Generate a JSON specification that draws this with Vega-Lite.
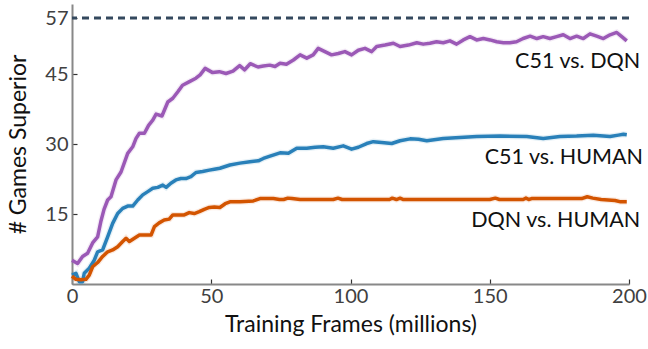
{
  "$schema": "https://vega.github.io/schema/vega-lite/v6.json",
  "width": 557,
  "height": 280,
  "autosize": "none",
  "padding": {"left": 72, "top": 4, "right": 19, "bottom": 65},
  "config": {
    "view": {"stroke": null},
    "font": "Lato",
    "axis": {"grid": false, "labelFont": "Lato", "titleFont": "Lato", "labelFontSize": 20, "labelColor": "#404040", "titleFontSize": 23, "titleFontWeight": "normal", "titleColor": "#111111", "domainColor": "#888888", "domainWidth": 2, "tickColor": "#333333", "tickWidth": 1.2, "labelFlush": false}
  },
  "datasets": {
    "curves": [
      {"frames": 0, "games": 5.1, "series": "C51 vs. DQN"},
      {"frames": 2, "games": 4.4, "series": "C51 vs. DQN"},
      {"frames": 3.8, "games": 5.9, "series": "C51 vs. DQN"},
      {"frames": 5.6, "games": 6.6, "series": "C51 vs. DQN"},
      {"frames": 7.4, "games": 8.8, "series": "C51 vs. DQN"},
      {"frames": 9.2, "games": 10.1, "series": "C51 vs. DQN"},
      {"frames": 10.4, "games": 13.5, "series": "C51 vs. DQN"},
      {"frames": 11.5, "games": 16, "series": "C51 vs. DQN"},
      {"frames": 12.8, "games": 18, "series": "C51 vs. DQN"},
      {"frames": 14, "games": 18.7, "series": "C51 vs. DQN"},
      {"frames": 15.8, "games": 22.3, "series": "C51 vs. DQN"},
      {"frames": 17.6, "games": 24, "series": "C51 vs. DQN"},
      {"frames": 20, "games": 28, "series": "C51 vs. DQN"},
      {"frames": 21.8, "games": 29.4, "series": "C51 vs. DQN"},
      {"frames": 23, "games": 31.2, "series": "C51 vs. DQN"},
      {"frames": 24.2, "games": 32.3, "series": "C51 vs. DQN"},
      {"frames": 26, "games": 32.3, "series": "C51 vs. DQN"},
      {"frames": 27.5, "games": 34, "series": "C51 vs. DQN"},
      {"frames": 29, "games": 35.1, "series": "C51 vs. DQN"},
      {"frames": 30.2, "games": 36.4, "series": "C51 vs. DQN"},
      {"frames": 32.3, "games": 36, "series": "C51 vs. DQN"},
      {"frames": 34.4, "games": 39, "series": "C51 vs. DQN"},
      {"frames": 36.2, "games": 39.8, "series": "C51 vs. DQN"},
      {"frames": 38, "games": 41.2, "series": "C51 vs. DQN"},
      {"frames": 39.7, "games": 42.6, "series": "C51 vs. DQN"},
      {"frames": 42, "games": 43.3, "series": "C51 vs. DQN"},
      {"frames": 44.5, "games": 44.1, "series": "C51 vs. DQN"},
      {"frames": 46, "games": 44.8, "series": "C51 vs. DQN"},
      {"frames": 47.8, "games": 46.2, "series": "C51 vs. DQN"},
      {"frames": 50.5, "games": 45.3, "series": "C51 vs. DQN"},
      {"frames": 52.9, "games": 45.5, "series": "C51 vs. DQN"},
      {"frames": 55.3, "games": 45.1, "series": "C51 vs. DQN"},
      {"frames": 57.8, "games": 45.6, "series": "C51 vs. DQN"},
      {"frames": 60.2, "games": 46.8, "series": "C51 vs. DQN"},
      {"frames": 62, "games": 45.9, "series": "C51 vs. DQN"},
      {"frames": 64, "games": 47.2, "series": "C51 vs. DQN"},
      {"frames": 66.8, "games": 46.5, "series": "C51 vs. DQN"},
      {"frames": 68.7, "games": 46.7, "series": "C51 vs. DQN"},
      {"frames": 71, "games": 46.9, "series": "C51 vs. DQN"},
      {"frames": 72.9, "games": 46.6, "series": "C51 vs. DQN"},
      {"frames": 74.7, "games": 47.3, "series": "C51 vs. DQN"},
      {"frames": 77, "games": 47.1, "series": "C51 vs. DQN"},
      {"frames": 79.5, "games": 48, "series": "C51 vs. DQN"},
      {"frames": 81.9, "games": 49.1, "series": "C51 vs. DQN"},
      {"frames": 84.3, "games": 48.4, "series": "C51 vs. DQN"},
      {"frames": 86.6, "games": 49.1, "series": "C51 vs. DQN"},
      {"frames": 88.4, "games": 50.5, "series": "C51 vs. DQN"},
      {"frames": 90.8, "games": 49.8, "series": "C51 vs. DQN"},
      {"frames": 93.2, "games": 49.1, "series": "C51 vs. DQN"},
      {"frames": 95.6, "games": 49.4, "series": "C51 vs. DQN"},
      {"frames": 98, "games": 49.8, "series": "C51 vs. DQN"},
      {"frames": 100.4, "games": 49.1, "series": "C51 vs. DQN"},
      {"frames": 102.8, "games": 50.1, "series": "C51 vs. DQN"},
      {"frames": 105.2, "games": 50.5, "series": "C51 vs. DQN"},
      {"frames": 107.6, "games": 49.8, "series": "C51 vs. DQN"},
      {"frames": 109.4, "games": 50.9, "series": "C51 vs. DQN"},
      {"frames": 112.4, "games": 51.2, "series": "C51 vs. DQN"},
      {"frames": 115.4, "games": 51.6, "series": "C51 vs. DQN"},
      {"frames": 117.8, "games": 50.9, "series": "C51 vs. DQN"},
      {"frames": 120.8, "games": 51.2, "series": "C51 vs. DQN"},
      {"frames": 123.8, "games": 51.7, "series": "C51 vs. DQN"},
      {"frames": 126.1, "games": 51.4, "series": "C51 vs. DQN"},
      {"frames": 128.5, "games": 51.6, "series": "C51 vs. DQN"},
      {"frames": 130.9, "games": 51.9, "series": "C51 vs. DQN"},
      {"frames": 133.3, "games": 51.7, "series": "C51 vs. DQN"},
      {"frames": 135.7, "games": 52.1, "series": "C51 vs. DQN"},
      {"frames": 138.1, "games": 51.4, "series": "C51 vs. DQN"},
      {"frames": 140.5, "games": 52.3, "series": "C51 vs. DQN"},
      {"frames": 142.9, "games": 53, "series": "C51 vs. DQN"},
      {"frames": 145.3, "games": 52.3, "series": "C51 vs. DQN"},
      {"frames": 147.7, "games": 52.6, "series": "C51 vs. DQN"},
      {"frames": 150.1, "games": 52.3, "series": "C51 vs. DQN"},
      {"frames": 152.5, "games": 51.9, "series": "C51 vs. DQN"},
      {"frames": 154.9, "games": 51.7, "series": "C51 vs. DQN"},
      {"frames": 157.2, "games": 51.7, "series": "C51 vs. DQN"},
      {"frames": 159.6, "games": 51.9, "series": "C51 vs. DQN"},
      {"frames": 162, "games": 52.6, "series": "C51 vs. DQN"},
      {"frames": 164.5, "games": 53.1, "series": "C51 vs. DQN"},
      {"frames": 166.9, "games": 52.6, "series": "C51 vs. DQN"},
      {"frames": 169.2, "games": 53, "series": "C51 vs. DQN"},
      {"frames": 171.6, "games": 52.6, "series": "C51 vs. DQN"},
      {"frames": 174, "games": 53, "series": "C51 vs. DQN"},
      {"frames": 176.4, "games": 53.4, "series": "C51 vs. DQN"},
      {"frames": 178.8, "games": 52.6, "series": "C51 vs. DQN"},
      {"frames": 181.2, "games": 53.1, "series": "C51 vs. DQN"},
      {"frames": 183.6, "games": 52.6, "series": "C51 vs. DQN"},
      {"frames": 186, "games": 53.6, "series": "C51 vs. DQN"},
      {"frames": 188.4, "games": 53.1, "series": "C51 vs. DQN"},
      {"frames": 190.8, "games": 52.6, "series": "C51 vs. DQN"},
      {"frames": 193.2, "games": 53.4, "series": "C51 vs. DQN"},
      {"frames": 195.6, "games": 53.9, "series": "C51 vs. DQN"},
      {"frames": 197.4, "games": 53, "series": "C51 vs. DQN"},
      {"frames": 199.2, "games": 52.1, "series": "C51 vs. DQN"},

      {"frames": 0, "games": 1.9, "series": "C51 vs. HUMAN"},
      {"frames": 1.4, "games": 2.3, "series": "C51 vs. HUMAN"},
      {"frames": 2.6, "games": 0.5, "series": "C51 vs. HUMAN"},
      {"frames": 3.8, "games": 0.5, "series": "C51 vs. HUMAN"},
      {"frames": 4.4, "games": 2.3, "series": "C51 vs. HUMAN"},
      {"frames": 6.2, "games": 3.4, "series": "C51 vs. HUMAN"},
      {"frames": 8, "games": 5.1, "series": "C51 vs. HUMAN"},
      {"frames": 9.2, "games": 6.9, "series": "C51 vs. HUMAN"},
      {"frames": 11, "games": 7.3, "series": "C51 vs. HUMAN"},
      {"frames": 12.8, "games": 10.1, "series": "C51 vs. HUMAN"},
      {"frames": 14.6, "games": 13, "series": "C51 vs. HUMAN"},
      {"frames": 16.4, "games": 15.1, "series": "C51 vs. HUMAN"},
      {"frames": 18.2, "games": 16.2, "series": "C51 vs. HUMAN"},
      {"frames": 20, "games": 16.7, "series": "C51 vs. HUMAN"},
      {"frames": 21.8, "games": 16.7, "series": "C51 vs. HUMAN"},
      {"frames": 23.6, "games": 18, "series": "C51 vs. HUMAN"},
      {"frames": 25.4, "games": 19.1, "series": "C51 vs. HUMAN"},
      {"frames": 27.2, "games": 19.8, "series": "C51 vs. HUMAN"},
      {"frames": 29, "games": 20.5, "series": "C51 vs. HUMAN"},
      {"frames": 30.8, "games": 20.7, "series": "C51 vs. HUMAN"},
      {"frames": 32.6, "games": 21.2, "series": "C51 vs. HUMAN"},
      {"frames": 33.8, "games": 20.7, "series": "C51 vs. HUMAN"},
      {"frames": 35.5, "games": 21.6, "series": "C51 vs. HUMAN"},
      {"frames": 37.3, "games": 22.3, "series": "C51 vs. HUMAN"},
      {"frames": 39.1, "games": 22.6, "series": "C51 vs. HUMAN"},
      {"frames": 40.9, "games": 22.6, "series": "C51 vs. HUMAN"},
      {"frames": 42.7, "games": 23, "series": "C51 vs. HUMAN"},
      {"frames": 44.5, "games": 23.9, "series": "C51 vs. HUMAN"},
      {"frames": 46.9, "games": 24.1, "series": "C51 vs. HUMAN"},
      {"frames": 49.3, "games": 24.4, "series": "C51 vs. HUMAN"},
      {"frames": 51.1, "games": 24.6, "series": "C51 vs. HUMAN"},
      {"frames": 53.1, "games": 24.8, "series": "C51 vs. HUMAN"},
      {"frames": 56.7, "games": 25.5, "series": "C51 vs. HUMAN"},
      {"frames": 60.3, "games": 25.9, "series": "C51 vs. HUMAN"},
      {"frames": 63.9, "games": 26.2, "series": "C51 vs. HUMAN"},
      {"frames": 66.9, "games": 26.4, "series": "C51 vs. HUMAN"},
      {"frames": 68.7, "games": 26.9, "series": "C51 vs. HUMAN"},
      {"frames": 71.1, "games": 27.4, "series": "C51 vs. HUMAN"},
      {"frames": 74.7, "games": 28.1, "series": "C51 vs. HUMAN"},
      {"frames": 77.7, "games": 28, "series": "C51 vs. HUMAN"},
      {"frames": 80.7, "games": 29.1, "series": "C51 vs. HUMAN"},
      {"frames": 84.3, "games": 29.1, "series": "C51 vs. HUMAN"},
      {"frames": 87.3, "games": 29.3, "series": "C51 vs. HUMAN"},
      {"frames": 90.2, "games": 29.4, "series": "C51 vs. HUMAN"},
      {"frames": 93.8, "games": 29.1, "series": "C51 vs. HUMAN"},
      {"frames": 97.4, "games": 29.6, "series": "C51 vs. HUMAN"},
      {"frames": 100.4, "games": 28.9, "series": "C51 vs. HUMAN"},
      {"frames": 102.8, "games": 29.3, "series": "C51 vs. HUMAN"},
      {"frames": 105.8, "games": 30.1, "series": "C51 vs. HUMAN"},
      {"frames": 108.2, "games": 30.5, "series": "C51 vs. HUMAN"},
      {"frames": 111.2, "games": 30.3, "series": "C51 vs. HUMAN"},
      {"frames": 114.8, "games": 30.1, "series": "C51 vs. HUMAN"},
      {"frames": 117.8, "games": 30.7, "series": "C51 vs. HUMAN"},
      {"frames": 121.4, "games": 31.1, "series": "C51 vs. HUMAN"},
      {"frames": 124.4, "games": 31, "series": "C51 vs. HUMAN"},
      {"frames": 127.4, "games": 30.7, "series": "C51 vs. HUMAN"},
      {"frames": 133.3, "games": 31.2, "series": "C51 vs. HUMAN"},
      {"frames": 139.3, "games": 31.4, "series": "C51 vs. HUMAN"},
      {"frames": 145.3, "games": 31.6, "series": "C51 vs. HUMAN"},
      {"frames": 153.7, "games": 31.7, "series": "C51 vs. HUMAN"},
      {"frames": 163.3, "games": 31.6, "series": "C51 vs. HUMAN"},
      {"frames": 169.2, "games": 31.2, "series": "C51 vs. HUMAN"},
      {"frames": 175.2, "games": 31.6, "series": "C51 vs. HUMAN"},
      {"frames": 181.2, "games": 31.7, "series": "C51 vs. HUMAN"},
      {"frames": 187.2, "games": 31.9, "series": "C51 vs. HUMAN"},
      {"frames": 193.2, "games": 31.6, "series": "C51 vs. HUMAN"},
      {"frames": 196.2, "games": 31.9, "series": "C51 vs. HUMAN"},
      {"frames": 198, "games": 32.1, "series": "C51 vs. HUMAN"},
      {"frames": 199.2, "games": 32, "series": "C51 vs. HUMAN"},

      {"frames": 0, "games": 1.7, "series": "DQN vs. HUMAN"},
      {"frames": 1.4, "games": 1, "series": "DQN vs. HUMAN"},
      {"frames": 3.2, "games": 0.9, "series": "DQN vs. HUMAN"},
      {"frames": 5, "games": 1, "series": "DQN vs. HUMAN"},
      {"frames": 6.2, "games": 1.9, "series": "DQN vs. HUMAN"},
      {"frames": 7.4, "games": 3.7, "series": "DQN vs. HUMAN"},
      {"frames": 9.2, "games": 4.6, "series": "DQN vs. HUMAN"},
      {"frames": 11, "games": 5.9, "series": "DQN vs. HUMAN"},
      {"frames": 12.8, "games": 6.9, "series": "DQN vs. HUMAN"},
      {"frames": 14.6, "games": 7.3, "series": "DQN vs. HUMAN"},
      {"frames": 16.4, "games": 8, "series": "DQN vs. HUMAN"},
      {"frames": 18.2, "games": 9.1, "series": "DQN vs. HUMAN"},
      {"frames": 19.4, "games": 9.8, "series": "DQN vs. HUMAN"},
      {"frames": 20.6, "games": 9.1, "series": "DQN vs. HUMAN"},
      {"frames": 22.4, "games": 9.8, "series": "DQN vs. HUMAN"},
      {"frames": 24.2, "games": 10.5, "series": "DQN vs. HUMAN"},
      {"frames": 26.6, "games": 10.5, "series": "DQN vs. HUMAN"},
      {"frames": 28.4, "games": 10.5, "series": "DQN vs. HUMAN"},
      {"frames": 29.6, "games": 12.3, "series": "DQN vs. HUMAN"},
      {"frames": 31.3, "games": 13.1, "series": "DQN vs. HUMAN"},
      {"frames": 33.1, "games": 13.7, "series": "DQN vs. HUMAN"},
      {"frames": 34.9, "games": 13.9, "series": "DQN vs. HUMAN"},
      {"frames": 36.2, "games": 14.8, "series": "DQN vs. HUMAN"},
      {"frames": 38.5, "games": 14.8, "series": "DQN vs. HUMAN"},
      {"frames": 40.3, "games": 14.8, "series": "DQN vs. HUMAN"},
      {"frames": 42.1, "games": 15.3, "series": "DQN vs. HUMAN"},
      {"frames": 43.9, "games": 15.1, "series": "DQN vs. HUMAN"},
      {"frames": 45.7, "games": 15.5, "series": "DQN vs. HUMAN"},
      {"frames": 47.5, "games": 16, "series": "DQN vs. HUMAN"},
      {"frames": 49.3, "games": 16.4, "series": "DQN vs. HUMAN"},
      {"frames": 51.1, "games": 16.5, "series": "DQN vs. HUMAN"},
      {"frames": 53.1, "games": 16.4, "series": "DQN vs. HUMAN"},
      {"frames": 55, "games": 17.2, "series": "DQN vs. HUMAN"},
      {"frames": 56.7, "games": 17.6, "series": "DQN vs. HUMAN"},
      {"frames": 60.3, "games": 17.6, "series": "DQN vs. HUMAN"},
      {"frames": 65.1, "games": 17.8, "series": "DQN vs. HUMAN"},
      {"frames": 67.5, "games": 18.3, "series": "DQN vs. HUMAN"},
      {"frames": 72.3, "games": 18.3, "series": "DQN vs. HUMAN"},
      {"frames": 74.5, "games": 18.1, "series": "DQN vs. HUMAN"},
      {"frames": 76, "games": 18.1, "series": "DQN vs. HUMAN"},
      {"frames": 77.5, "games": 18.4, "series": "DQN vs. HUMAN"},
      {"frames": 79, "games": 18.3, "series": "DQN vs. HUMAN"},
      {"frames": 81.9, "games": 18.1, "series": "DQN vs. HUMAN"},
      {"frames": 93.8, "games": 18.1, "series": "DQN vs. HUMAN"},
      {"frames": 95.5, "games": 18.4, "series": "DQN vs. HUMAN"},
      {"frames": 97, "games": 18.1, "series": "DQN vs. HUMAN"},
      {"frames": 114, "games": 18.1, "series": "DQN vs. HUMAN"},
      {"frames": 115, "games": 18.4, "series": "DQN vs. HUMAN"},
      {"frames": 116.5, "games": 18.1, "series": "DQN vs. HUMAN"},
      {"frames": 117.8, "games": 18.4, "series": "DQN vs. HUMAN"},
      {"frames": 119, "games": 18.1, "series": "DQN vs. HUMAN"},
      {"frames": 150, "games": 18.1, "series": "DQN vs. HUMAN"},
      {"frames": 152, "games": 18.4, "series": "DQN vs. HUMAN"},
      {"frames": 153.5, "games": 18.1, "series": "DQN vs. HUMAN"},
      {"frames": 162, "games": 18.1, "series": "DQN vs. HUMAN"},
      {"frames": 163, "games": 18.4, "series": "DQN vs. HUMAN"},
      {"frames": 164, "games": 18.1, "series": "DQN vs. HUMAN"},
      {"frames": 165, "games": 18.3, "series": "DQN vs. HUMAN"},
      {"frames": 183, "games": 18.3, "series": "DQN vs. HUMAN"},
      {"frames": 185, "games": 18.7, "series": "DQN vs. HUMAN"},
      {"frames": 187, "games": 18.4, "series": "DQN vs. HUMAN"},
      {"frames": 190, "games": 18.1, "series": "DQN vs. HUMAN"},
      {"frames": 195, "games": 17.9, "series": "DQN vs. HUMAN"},
      {"frames": 197, "games": 17.6, "series": "DQN vs. HUMAN"},
      {"frames": 199.2, "games": 17.6, "series": "DQN vs. HUMAN"}
    ],
    "labels": [
      {"frames": 204, "games": 47.6, "label": "C51 vs. DQN"},
      {"frames": 205, "games": 27.1, "label": "C51 vs. HUMAN"},
      {"frames": 204, "games": 13.5, "label": "DQN vs. HUMAN"}
    ],
    "reference": [{"games": 57}]
  },
  "layer": [
    {
      "data": {"name": "reference"},
      "mark": {"type": "rule", "color": "#34495e", "strokeWidth": 3, "strokeDash": [7, 5]},
      "encoding": {"y": {"field": "games", "type": "quantitative", "scale": {"domain": [0, 60], "nice": false}}}
    },
    {
      "data": {"name": "curves"},
      "mark": {"type": "line", "strokeWidth": 6, "opacity": 0.12, "interpolate": "linear"},
      "encoding": {
        "x": {"field": "frames", "type": "quantitative"},
        "y": {"field": "games", "type": "quantitative"},
        "color": {"field": "series", "type": "nominal", "scale": {"domain": ["C51 vs. DQN", "C51 vs. HUMAN", "DQN vs. HUMAN"], "range": ["#9b59b6", "#2980b9", "#d35400"]}, "legend": null}
      }
    },
    {
      "data": {"name": "curves"},
      "mark": {"type": "line", "strokeWidth": 3.5, "strokeJoin": "round"},
      "encoding": {
        "x": {"field": "frames", "type": "quantitative", "scale": {"domain": [0, 200], "nice": false}, "title": "Training Frames (millions)", "axis": {"values": [0, 50, 100, 150, 200], "tickSize": -5, "labelPadding": 7, "titlePadding": 7}},
        "y": {"field": "games", "type": "quantitative", "scale": {"domain": [0, 60], "nice": false}, "title": "# Games Superior", "axis": {"values": [15, 30, 45, 57], "tickSize": -5, "labelPadding": 9, "titlePadding": 14}},
        "color": {"field": "series", "type": "nominal", "legend": null}
      }
    },
    {
      "data": {"name": "labels"},
      "mark": {"type": "text", "align": "right", "baseline": "middle", "fontSize": 21.5, "font": "Lato", "color": "#111111"},
      "encoding": {
        "x": {"field": "frames", "type": "quantitative"},
        "y": {"field": "games", "type": "quantitative"},
        "text": {"field": "label"}
      }
    }
  ]
}
